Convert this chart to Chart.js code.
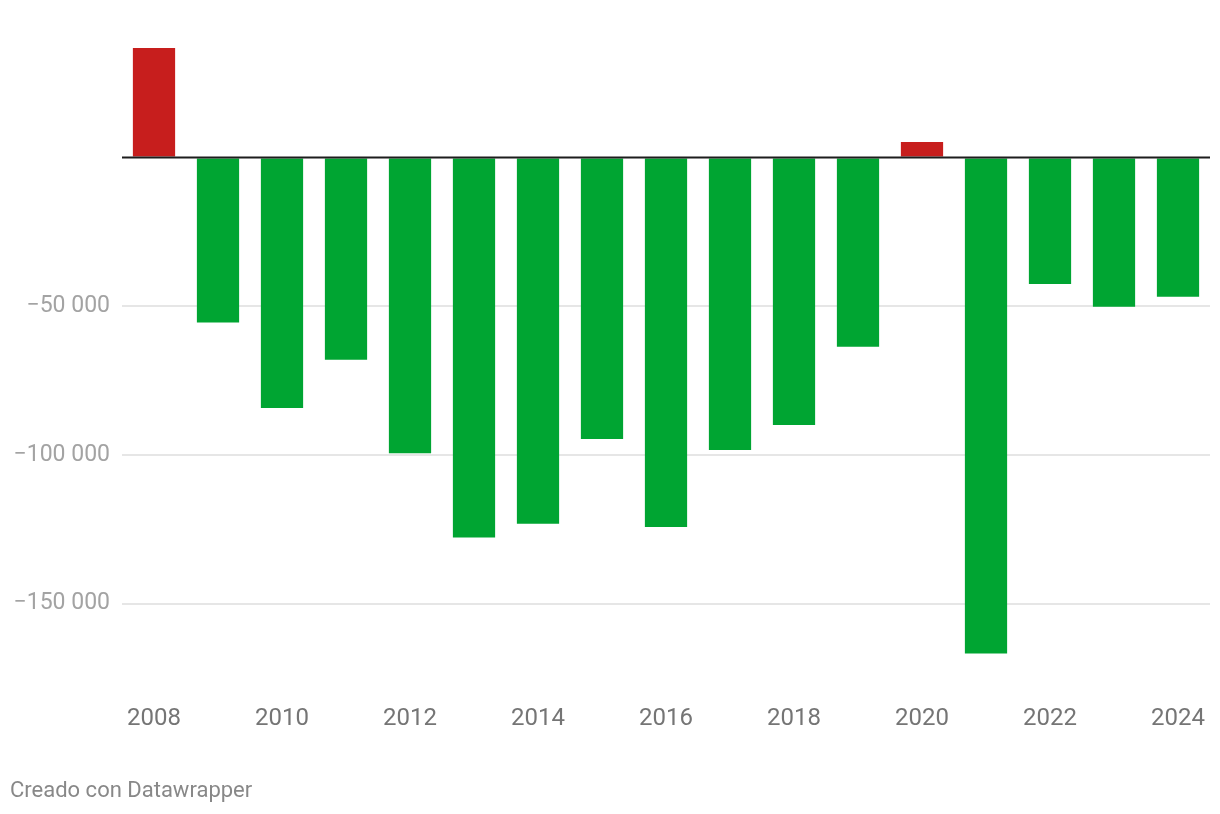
<!DOCTYPE html>
<html>
<head>
<meta charset="utf-8">
<script src="https://cdn.jsdelivr.net/npm/chart.js@4.4.1/dist/chart.umd.min.js"></script>
<style>
  html, body { margin: 0; padding: 0; background: #ffffff; }
  #wrap { position: relative; width: 1220px; height: 814px; }
  #footer { position: absolute; left: 10px; top: 777px; font-family: Roboto, sans-serif; font-size: 22px; color: #888888; }
</style>
</head>
<body>
<div id="wrap">
  <canvas id="c"></canvas>
  <div id="footer">Creado con Datawrapper</div>
</div>
<script>
const years = ['2008','2009','2010','2011','2012','2013','2014','2015','2016','2017','2018','2019','2020','2021','2022','2023','2024'];
const values = [36800, -55500, -84200, -68000, -99400, -127800, -123100, -94650, -124200, -98350, -89940, -63600, 5200, -166800, -42530, -50160, -46800];
const yTicks = [-150000, -100000, -50000, 0];
const xTickLabels = ['2008','2010','2012','2014','2016','2018','2020','2022','2024'];

const RED = '#c71e1d';
const GREEN = '#00a532';

function fmt(v) {
  const s = Math.abs(v).toString().replace(/\B(?=(\d{3})+(?!\d))/g, ' ');
  return (v < 0 ? '\u2212' : '') + s;
}

const zeroLine = {
  id: 'zeroLine',
  afterDatasetsDraw(chart) {
    const y = chart.scales.y.getPixelForValue(0);
    const a = chart.chartArea;
    const ctx = chart.ctx;
    ctx.save();
    ctx.strokeStyle = '#1d1d1d';
    ctx.lineWidth = 2;
    ctx.beginPath();
    ctx.moveTo(a.left, y);
    ctx.lineTo(a.right, y);
    ctx.stroke();
    ctx.restore();
  }
};

new Chart(document.getElementById('c'), {
  type: 'bar',
  data: {
    labels: years,
    datasets: [{
      data: values,
      backgroundColor: values.map(v => v >= 0 ? RED : GREEN),
      borderWidth: 0,
      categoryPercentage: 1,
      barPercentage: 0.66
    }]
  },
  options: {
    responsive: true,
    maintainAspectRatio: false,
    animation: false,
    layout: { padding: { top: 23.7, right: 10, left: 0, bottom: 0 } },
    plugins: { legend: { display: false }, tooltip: { enabled: false } },
    scales: {
      x: {
        grid: { display: false, drawTicks: false },
        border: { display: false },
        ticks: {
          autoSkip: false,
          maxRotation: 0,
          padding: 27,
          color: '#757575',
          font: { family: 'Roboto', size: 24 },
          callback: function(val) {
            const l = this.getLabelForValue(val);
            return xTickLabels.includes(l) ? l : '';
          }
        },
        afterFit(axis) {
          axis.height = 136;
          axis.paddingLeft = 0;
          axis.paddingRight = 0;
        }
      },
      y: {
        min: -175000,
        max: 45000,
        afterBuildTicks(axis) { axis.ticks = yTicks.map(v => ({ value: v })); },
        grid: {
          drawTicks: false,
          color: ctx => (ctx.tick && ctx.tick.value === 0) ? 'rgba(0,0,0,0)' : '#e6e6e6',
          lineWidth: 2
        },
        border: { display: false },
        ticks: {
          padding: 12,
          color: '#a3a3a3',
          font: { family: 'Roboto', size: 23 },
          callback: v => v === 0 ? '' : fmt(v)
        },
        afterFit(axis) {
          axis.width = 122;
          axis.paddingTop = 0;
          axis.paddingBottom = 0;
        }
      }
    }
  },
  plugins: [zeroLine]
});
</script>
</body>
</html>
